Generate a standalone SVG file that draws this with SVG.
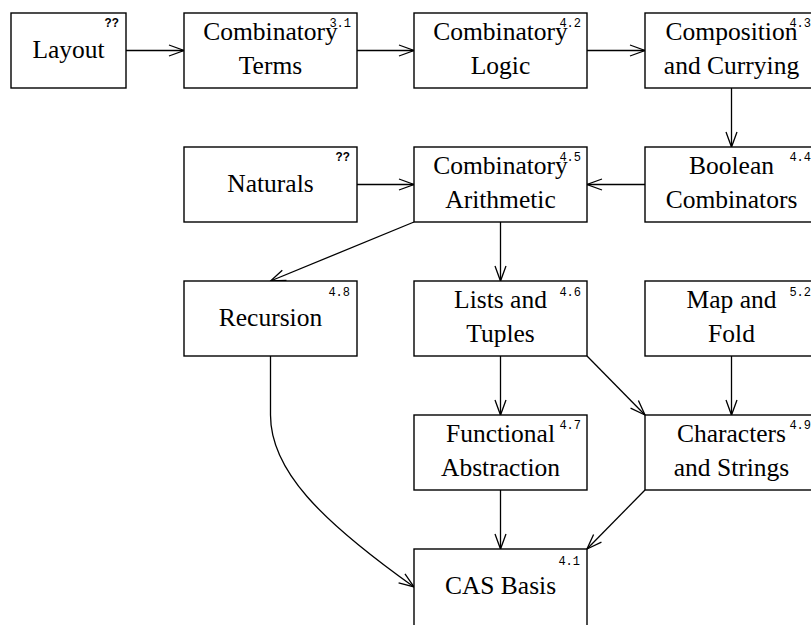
<svg xmlns="http://www.w3.org/2000/svg" width="811" height="625" viewBox="0 0 811 625">
  <defs>
    <marker id="arrow" markerUnits="userSpaceOnUse" markerWidth="20" markerHeight="14" refX="0" refY="0" viewBox="-16 -7 18 14" orient="auto" overflow="visible">
      <path d="M-15,-5.5 L0,0 L-15,5.5" fill="none" stroke="#000" stroke-width="1.3"/>
    </marker>
  </defs>
  <style>
    .box { fill: #fff; stroke: #000; stroke-width: 1.4; }
    .lbl { font-family: "Liberation Serif", "Times New Roman", serif; font-size: 25.5px; text-anchor: middle; fill: #000; }
    .num { font-family: "Liberation Mono", "Courier New", monospace; font-size: 12px; text-anchor: end; fill: #000; }
    .ref { font-family: "Liberation Mono", "Courier New", monospace; font-size: 12px; font-weight: bold; text-anchor: end; fill: #000; }
    .edge { fill: none; stroke: #000; stroke-width: 1.3; marker-end: url(#arrow); }
  </style>
  <rect width="811" height="625" fill="#fff"/>

  <!-- connectors -->
  <g id="edges">
    <line class="edge" x1="126" y1="50.5" x2="184" y2="50.5"/>
    <line class="edge" x1="357" y1="50.5" x2="414" y2="50.5"/>
    <line class="edge" x1="587" y1="50.5" x2="645" y2="50.5"/>
    <line class="edge" x1="731.5" y1="88" x2="731.5" y2="147"/>
    <line class="edge" x1="645" y1="184.5" x2="587" y2="184.5"/>
    <line class="edge" x1="357" y1="184.5" x2="414" y2="184.5"/>
    <line class="edge" x1="414" y1="222" x2="270.5" y2="281"/>
    <line class="edge" x1="500.5" y1="222" x2="500.5" y2="281"/>
    <line class="edge" x1="500.5" y1="356" x2="500.5" y2="415"/>
    <line class="edge" x1="587" y1="356" x2="645" y2="415"/>
    <line class="edge" x1="731.5" y1="356" x2="731.5" y2="415"/>
    <line class="edge" x1="500.5" y1="490" x2="500.5" y2="549"/>
    <line class="edge" x1="645" y1="490" x2="587" y2="549"/>
    <path class="edge" d="M270.5,356 L270.5,415 C270.5,470 320,520 414,587"/>
  </g>

  <!-- nodes -->
  <g id="layout">
    <rect class="box" x="11" y="13" width="115" height="75"/>
    <text class="lbl" x="68.5" y="58">Layout</text>
    <text class="ref" x="119" y="27">??</text>
  </g>
  <g id="comb-terms">
    <rect class="box" x="184" y="13" width="173" height="75"/>
    <text class="lbl" x="270.5" y="40">Combinatory</text>
    <text class="lbl" x="270.5" y="74">Terms</text>
    <text class="num" x="351" y="27">3.1</text>
  </g>
  <g id="comb-logic">
    <rect class="box" x="414" y="13" width="173" height="75"/>
    <text class="lbl" x="500.5" y="40">Combinatory</text>
    <text class="lbl" x="500.5" y="74">Logic</text>
    <text class="num" x="581" y="27">4.2</text>
  </g>
  <g id="composition">
    <rect class="box" x="645" y="13" width="173" height="75"/>
    <text class="lbl" x="731.5" y="40">Composition</text>
    <text class="lbl" x="731.5" y="74">and Currying</text>
    <text class="num" x="811" y="27">4.3</text>
  </g>
  <g id="naturals">
    <rect class="box" x="184" y="147" width="173" height="75"/>
    <text class="lbl" x="270.5" y="192">Naturals</text>
    <text class="ref" x="350" y="161">??</text>
  </g>
  <g id="comb-arith">
    <rect class="box" x="414" y="147" width="173" height="75"/>
    <text class="lbl" x="500.5" y="174">Combinatory</text>
    <text class="lbl" x="500.5" y="208">Arithmetic</text>
    <text class="num" x="581" y="161">4.5</text>
  </g>
  <g id="boolean">
    <rect class="box" x="645" y="147" width="173" height="75"/>
    <text class="lbl" x="731.5" y="174">Boolean</text>
    <text class="lbl" x="731.5" y="208">Combinators</text>
    <text class="num" x="811" y="161">4.4</text>
  </g>
  <g id="recursion">
    <rect class="box" x="184" y="281" width="173" height="75"/>
    <text class="lbl" x="270.5" y="326">Recursion</text>
    <text class="num" x="350" y="296">4.8</text>
  </g>
  <g id="lists">
    <rect class="box" x="414" y="281" width="173" height="75"/>
    <text class="lbl" x="500.5" y="308">Lists and</text>
    <text class="lbl" x="500.5" y="342">Tuples</text>
    <text class="num" x="581" y="296">4.6</text>
  </g>
  <g id="map-fold">
    <rect class="box" x="645" y="281" width="173" height="75"/>
    <text class="lbl" x="731.5" y="308">Map and</text>
    <text class="lbl" x="731.5" y="342">Fold</text>
    <text class="num" x="811" y="296">5.2</text>
  </g>
  <g id="functional">
    <rect class="box" x="414" y="415" width="173" height="75"/>
    <text class="lbl" x="500.5" y="442">Functional</text>
    <text class="lbl" x="500.5" y="476">Abstraction</text>
    <text class="num" x="581" y="429">4.7</text>
  </g>
  <g id="characters">
    <rect class="box" x="645" y="415" width="173" height="75"/>
    <text class="lbl" x="731.5" y="442">Characters</text>
    <text class="lbl" x="731.5" y="476">and Strings</text>
    <text class="num" x="811" y="429">4.9</text>
  </g>
  <g id="cas-basis">
    <rect class="box" x="414" y="549" width="173" height="78"/>
    <text class="lbl" x="500.5" y="594">CAS Basis</text>
    <text class="num" x="580" y="565">4.1</text>
  </g>
</svg>
